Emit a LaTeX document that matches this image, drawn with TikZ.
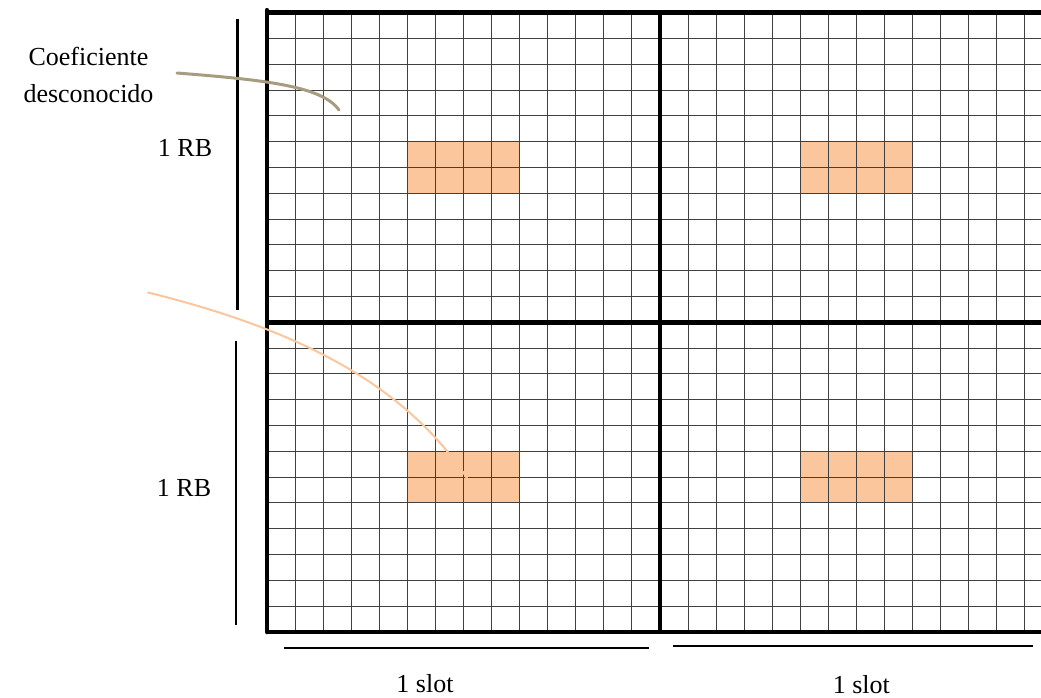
\documentclass[tikz,border=0pt]{standalone}
\usepackage{fontspec}
\setmainfont{Liberation Serif}
\definecolor{cellfill}{HTML}{FBC69C}
\definecolor{tanline}{HTML}{A79B80}
\begin{document}
\begin{tikzpicture}[x=1pt,y=-1pt,
  gridline/.style={line width=1.1pt, draw=black!75},
  frameline/.style={line width=4.8pt, draw=black},
  spanline/.style={line width=2.4pt, draw=black},
  lbl/.style={font=\fontsize{26}{30}\selectfont, inner sep=0pt},
  pilot/.style={fill=cellfill},
  tanconn/.style={line width=3pt, draw=tanline, line cap=round},
  orangeconn/.style={line width=2pt, draw=cellfill, line cap=round}]
\useasboundingbox (0,0) rectangle (1041,698);
\begin{scope}
\clip (0,0) rectangle (1041,698);
% pilot cells
\fill[pilot] (407.35,141.7) rectangle (519.63,193.3);
\fill[pilot] (800.33,141.7) rectangle (912.61,193.3);
\fill[pilot] (407.35,451.3) rectangle (519.63,502.9);
\fill[pilot] (800.33,451.3) rectangle (912.61,502.9);
% thin grid
\foreach \k in {1,...,28} \draw[gridline] ({267+28.07*\k},12.7) -- ({267+28.07*\k},631.9);
\foreach \j in {1,...,23} \draw[gridline] (267,{12.7+25.8*\j}) -- (1080,{12.7+25.8*\j});
% thick frame
\draw[frameline] (267,12.7) -- (1080,12.7);
\draw[frameline] (267,322.3) -- (1080,322.3);
\draw[frameline] (267,631.9) -- (1080,631.9);
\draw[frameline, line cap=round] (267,10.3) -- (267,631.9);
\draw[frameline] (660,10.3) -- (660,634.3);
\end{scope}
% span markers
\draw[spanline] (237.3,19) -- (237.3,310);
\draw[spanline] (236,341) -- (236,625);
\draw[spanline] (284,647.7) -- (649,647.7);
\draw[spanline] (673.3,646) -- (1033,646);
% labels
\node[lbl, anchor=base] (coefA) at (88.5,66) {Coeficiente};
\node[lbl, anchor=base] (coefB) at (88.5,102.5) {desconocido};
\node[lbl] (rbA) at (185,148) {1 RB};
\node[lbl] (rbB) at (184,487.5) {1 RB};
\node[lbl, anchor=base] (slotA) at (425,692) {1 slot};
\node[lbl, anchor=base] (slotB) at (861.3,693.5) {1 slot};
% connectors
\coordinate (tanstart) at (177,73);
\coordinate (tanend) at (339,110);
\draw[tanconn] (tanstart) .. controls (265,80) and (322,86) .. (tanend);
\coordinate (orstart) at (148,292.5);
\coordinate (orend) at (467,478);
\draw[orangeconn] (orstart) .. controls (300,330) and (405,385) .. (orend);
\end{tikzpicture}
\end{document}
